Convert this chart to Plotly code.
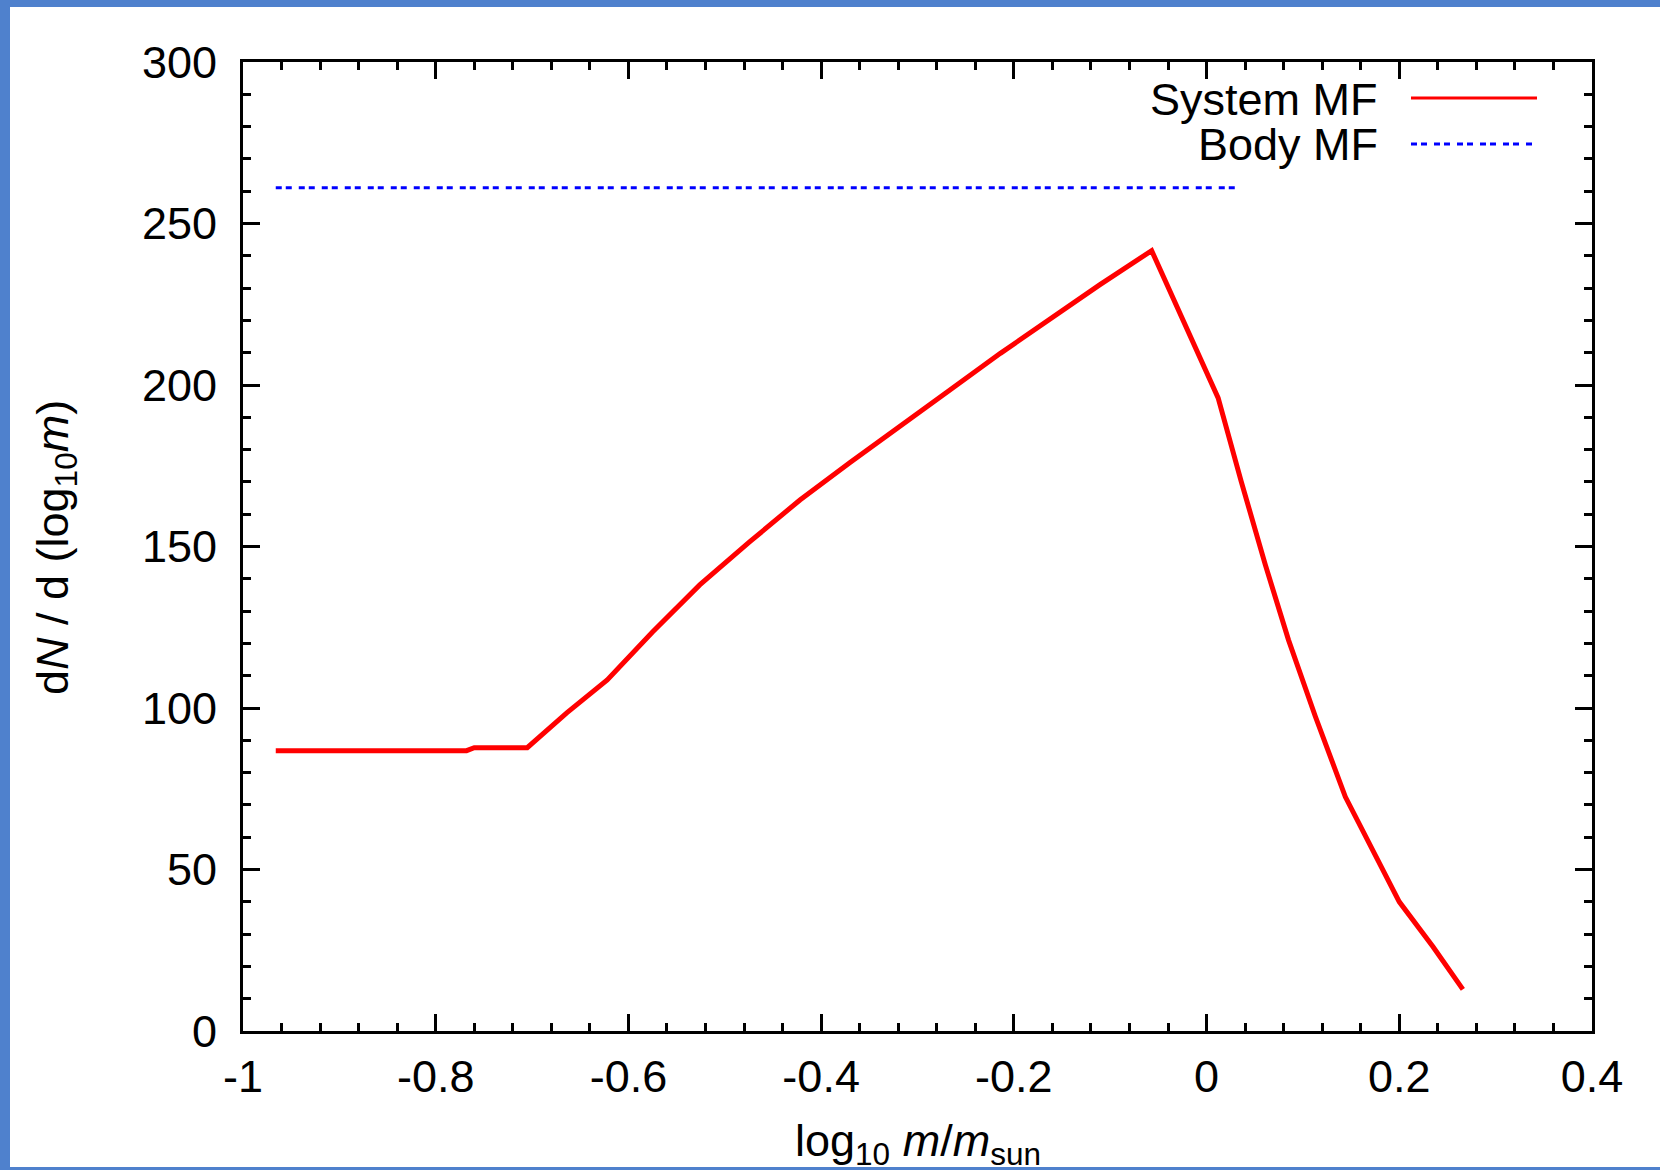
import plotly.graph_objects as go

# ---------------- data ----------------
system_x = [-0.966, -0.768, -0.760, -0.705, -0.664, -0.622, -0.575, -0.526, -0.474,
            -0.422, -0.370, -0.318, -0.266, -0.214, -0.162, -0.111, -0.057, -0.010,
            0.012, 0.036, 0.061, 0.085, 0.113, 0.144, 0.165, 0.200, 0.235, 0.266]
system_y = [86.8, 86.8, 87.7, 87.7, 98.5, 108.7, 123.5, 138.1, 151.5,
            164.4, 176.0, 187.1, 198.5, 209.8, 220.5, 231.0, 241.6, 210.8,
            196.0, 170.1, 144.3, 121.1, 97.3, 72.5, 60.3, 40.0, 26.1, 12.9]

body_x = [-0.966, 0.031]
body_y = [261.1, 261.1]

x_tick_vals = [-1, -0.8, -0.6, -0.4, -0.2, 0, 0.2, 0.4]
x_tick_labels = ["-1", "-0.8", "-0.6", "-0.4", "-0.2", "0", "0.2", "0.4"]
y_tick_vals = [0, 50, 100, 150, 200, 250, 300]
y_tick_labels = ["0", "50", "100", "150", "200", "250", "300"]

series_names = ["System MF", "Body MF"]

# ---------------- layout constants ----------------
W, H = 1660, 1170
L, R, T, B = 243, 1592, 62, 1031
PW, PH = R - L, B - T
FONT = "Liberation Sans, Arial, sans-serif"
FS = 45
BLUE_BORDER = "#4f81cd"


def px_x(px):
    return (px - L) / PW


def px_y(py):
    return (B - py) / PH


fig = go.Figure()
fig.add_trace(go.Scatter(x=system_x, y=system_y, mode="lines", name=series_names[0],
                         line=dict(color="#ff0000", width=5), showlegend=False))
fig.add_trace(go.Scatter(x=body_x, y=body_y, mode="lines", name=series_names[1],
                         line=dict(color="#0000ff", width=3, dash="6px,4px,6px,7px"),
                         showlegend=False))

axis_common = dict(
    showline=True, linecolor="black", linewidth=3, mirror="ticks",
    ticks="inside", ticklen=17, tickwidth=3, tickcolor="black",
    showgrid=False, zeroline=False,
    tickfont=dict(family=FONT, size=FS, color="black"),
)

fig.update_xaxes(range=[-1, 0.4], tickmode="array", tickvals=x_tick_vals,
                 ticktext=x_tick_labels, ticklabelstandoff=4,
                 minor=dict(dtick=0.04, tick0=-1, ticks="inside", ticklen=8,
                            tickwidth=3, tickcolor="black", showgrid=False),
                 **axis_common)
fig.update_yaxes(range=[0, 300], tickmode="array", tickvals=y_tick_vals,
                 ticktext=y_tick_labels, ticklabelstandoff=14,
                 minor=dict(dtick=10, tick0=0, ticks="inside", ticklen=8,
                            tickwidth=3, tickcolor="black", showgrid=False),
                 **axis_common)

shapes = [
    # white page inside the blue frame
    dict(type="rect", xref="paper", yref="paper", layer="below",
         x0=px_x(10), x1=px_x(W + 5), y0=px_y(1167), y1=px_y(7),
         fillcolor="white", line=dict(width=0)),
    # legend samples
    dict(type="line", xref="paper", yref="paper",
         x0=px_x(1411), x1=px_x(1537), y0=px_y(98), y1=px_y(98),
         line=dict(color="#ff0000", width=3)),
    dict(type="line", xref="paper", yref="paper",
         x0=px_x(1411), x1=px_x(1532), y0=px_y(144), y1=px_y(144),
         line=dict(color="#0000ff", width=3, dash="6px,4px,6px,7px")),
]

annotations = [
    dict(text=series_names[0], xref="paper", yref="paper", x=px_x(1380), y=px_y(99),
         xanchor="right", yanchor="middle", showarrow=False,
         font=dict(family=FONT, size=FS, color="black")),
    dict(text=series_names[1], xref="paper", yref="paper", x=px_x(1380), y=px_y(145),
         xanchor="right", yanchor="middle", showarrow=False,
         font=dict(family=FONT, size=FS, color="black")),
    dict(text="d<i>N</i> / d (log<sub>10</sub><i>m</i>)", xref="paper", yref="paper",
         x=px_x(55), y=px_y(548), xanchor="center", yanchor="middle", textangle=-90,
         showarrow=False, font=dict(family=FONT, size=FS, color="black")),
    dict(text="log<sub>10</sub> <i>m</i>/<i>m</i><sub>sun</sub>", xref="paper", yref="paper",
         x=0.5, y=px_y(1143), xanchor="center", yanchor="middle",
         showarrow=False, font=dict(family=FONT, size=FS, color="black")),
]

fig.update_layout(
    width=W, height=H,
    margin=dict(l=L, r=W - R, t=T, b=H - B, autoexpand=False),
    paper_bgcolor=BLUE_BORDER, plot_bgcolor="white",
    shapes=shapes, annotations=annotations, showlegend=False,
)

fig.write_html("out.html")
